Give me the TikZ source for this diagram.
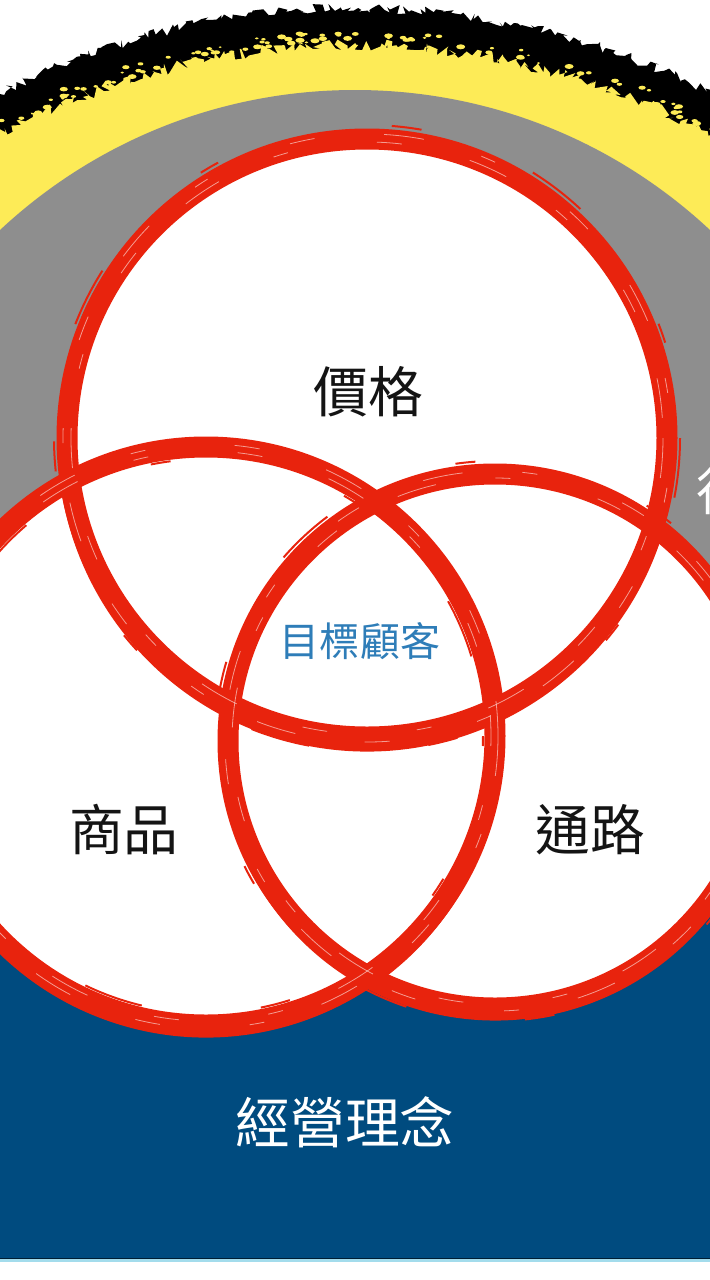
\documentclass[tikz,border=0pt]{standalone}
\usepackage{fontspec}
\setmainfont{Noto Sans CJK TC}
\usetikzlibrary{decorations.pathmorphing}
\definecolor{bandyellow}{HTML}{FDEB57}
\definecolor{bandgray}{HTML}{8E8E8E}
\definecolor{baseblue}{HTML}{004B7F}
\definecolor{brushred}{HTML}{E8230D}
\definecolor{coreblue}{HTML}{2E7DB8}
\definecolor{edgecyan}{HTML}{A3DCEC}
\begin{document}
\begin{tikzpicture}[x=0.1mm,y=-0.1mm,
  ring/.style={draw=brushred, line width=2.1mm},
  ringthick/.style={draw=brushred, line width=1.3mm},
  streak/.style={draw=white, line width=0.08mm, opacity=0.55, dash pattern=on 4mm off 6mm on 1.5mm off 9mm on 2.5mm off 7mm},
  wisp/.style={draw=brushred, line width=0.2mm, dash pattern=on 6mm off 14mm on 2mm off 18mm on 3mm off 12mm},
  wordtag/.style={font=\fontsize{15.6}{18}\selectfont, text=black!92, inner sep=0pt},
]
\useasboundingbox (0,0) rectangle (710,1280);
\clip (0,0) rectangle (710,1280);
\fill[white] (0,0) rectangle (710,1280);
\pgfmathsetseed{7}
% rough black and yellow arch
\fill[black, decorate, decoration={random steps, segment length=0.35mm, amplitude=0.5mm}] (355,790) circle[radius=782];
\fill[bandyellow, decorate, decoration={random steps, segment length=0.3mm, amplitude=0.6mm}] (355,790) circle[radius=745];
\foreach \i in {1,...,120}{
  \pgfmathsetmacro\ang{236+68*rnd}
  \pgfmathsetmacro\rad{747+12*rnd}
  \pgfmathsetmacro\sz{0.8+1.8*rnd}
  \fill[bandyellow, shift={(355,790)}] (\ang:\rad) circle[x radius=\sz*1.8, y radius=\sz];
}
% gray band
\fill[bandgray] (355,610) circle[radius=520];
% blue base
\fill[baseblue] (0,760) rectangle (710,1258);
\fill[black!60!baseblue] (0,1257.5) rectangle (710,1258.7);
\fill[edgecyan] (0,1258.7) rectangle (710,1261.5);
\fill[white] (0,1261.5) rectangle (710,1280);
% white discs
\fill[white] (367,438) circle[x radius=300, y radius=299];
\fill[white] (206,736) circle[radius=289];
\fill[white] (495,741) circle[radius=267];
% red brush rings
\draw[ring] (367,438) circle[x radius=300, y radius=299];
\draw[ringthick] (367,442) ++(15:303) arc[start angle=15, end angle=185, radius=303];
\draw[ring] (206,736) circle[radius=289];
\draw[ringthick] (206,741) ++(20:290) arc[start angle=20, end angle=170, radius=290];
\draw[ring] (495,741) circle[radius=267];
\draw[ringthick] (495,746) ++(10:268) arc[start angle=10, end angle=160, radius=268];
% brush texture
\draw[streak] (367,438) circle[radius=296];
\draw[streak, dash phase=5mm] (367,438) circle[radius=304];
\draw[streak] (206,736) circle[radius=292];
\draw[streak, dash phase=3mm] (206,736) circle[radius=285];
\draw[streak] (495,741) circle[radius=270];
\draw[streak, dash phase=6mm] (495,741) circle[radius=263];
\draw[wisp] (367,438) circle[radius=313];
\draw[wisp, dash phase=5mm] (206,736) circle[radius=277];
\draw[wisp, dash phase=2mm] (495,741) circle[radius=280];
% texts
\node[wordtag] (price) at (368,392) {價格};
\node[wordtag, font=\fontsize{11.4}{14}\selectfont, text=coreblue] (target) at (360,641) {目標顧客};
\node[wordtag] (product) at (124,830) {商品};
\node[wordtag] (channel) at (590,830) {通路};
\node[wordtag, text=white] (philosophy) at (345,1122) {經營理念};
\node[wordtag, text=white, anchor=west, font=\fontsize{14.5}{17}\selectfont] (promo) at (696,491) {行};
\end{tikzpicture}
\end{document}
